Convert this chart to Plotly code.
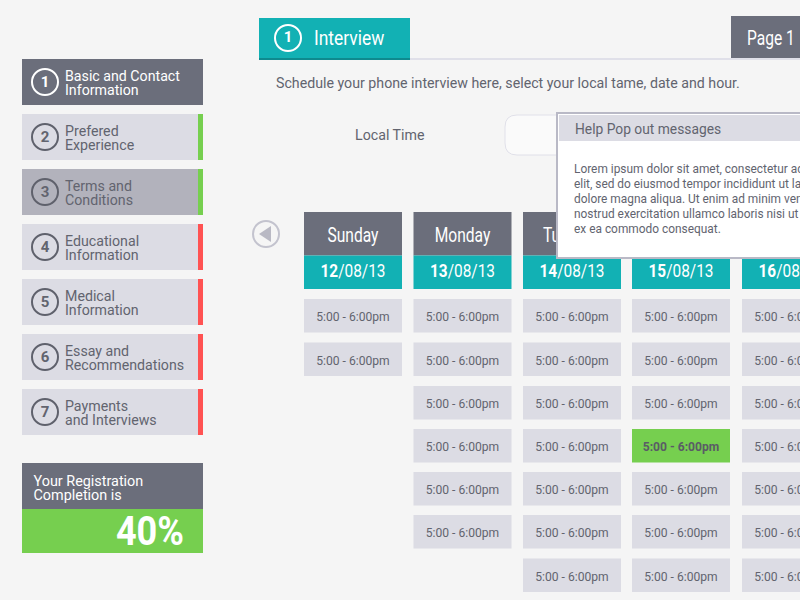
import plotly.graph_objects as go

# Content
step_lines = [
    ['Basic and Contact', 'Information'],
    ['Prefered', 'Experience'],
    ['Terms and', 'Conditions'],
    ['Educational', 'Information'],
    ['Medical', 'Information'],
    ['Essay and', 'Recommendations'],
    ['Payments', 'and Interviews'],
]
step_status = [None, 'done', 'done', 'todo', 'todo', 'todo', 'todo']
active_step = 0
hover_step = 2

days = ['Sunday', 'Monday', 'Tuesday', 'Wednesday', 'Thursday']
dates = ['12', '13', '14', '15', '16']
date_suffix = '/08/13'
slots_per_day = [2, 6, 7, 7, 7]
slot_label = '5:00 - 6:00pm'
selected_slot = (3, 3)  # day index, row index

completion_lines = ['Your Registration', 'Completion is']
completion_value = '40%'
tab_title = 'Interview'
page_label = 'Page 1'
intro_text = 'Schedule your phone interview here, select your local tame, date and hour.'
local_time_label = 'Local Time'
popup_title = 'Help Pop out messages'
popup_lines = [
    'Lorem ipsum dolor sit amet, consectetur adipisicing',
    'elit, sed do eiusmod tempor incididunt ut labore et',
    'dolore magna aliqua. Ut enim ad minim veniam, quis',
    'nostrud exercitation ullamco laboris nisi ut aliquip',
    'ex ea commodo consequat.',
]

# Colours and fonts
BG = '#f5f5f5'
DARK = '#6b6e7b'
LIGHT = '#dcdce4'
MUTED = '#b2b2bc'
TEAL = '#12b1b4'
TEAL_DARK = '#0e8a8e'
GREEN = '#76cf4f'
RED = '#ff5252'
TEXT = '#62646f'
RULE = '#e0e0e9'
FONT = 'Roboto'

fig = go.Figure()


def rect(x0, y0, x1, y1, fill, layer='below'):
    fig.add_shape(type='rect', x0=x0, y0=y0, x1=x1, y1=y1, fillcolor=fill,
                  line_width=0, layer=layer)


def circle(cx, cy, r, stroke, width=2):
    fig.add_shape(type='circle', x0=cx - r, y0=cy - r, x1=cx + r, y1=cy + r,
                  line=dict(color=stroke, width=width), layer='below')


def text(x, y, label, size, color=TEXT, pos='middle right'):
    fig.add_trace(go.Scatter(
        x=[x], y=[y], text=[label], mode='text', textposition=pos,
        textfont=dict(family=FONT, size=size, color=color),
        hoverinfo='skip', showlegend=False,
    ))


# Sidebar steps
for i, lines in enumerate(step_lines):
    top = 59 + i * 55
    fill = DARK if i == active_step else MUTED if i == hover_step else LIGHT
    ink = 'white' if i == active_step else TEXT
    rect(22, top, 203, top + 46, fill)
    if step_status[i]:
        rect(198, top, 203, top + 46, GREEN if step_status[i] == 'done' else RED)
    circle(45, top + 23, 13, ink if i == active_step else '#5f616c')
    text(45, top + 24, f'<b>{i + 1}</b>', 15, ink, 'middle center')
    text(65, top + 18, lines[0], 14.2, ink)
    text(65, top + 32, lines[1], 14.2, ink)

# Completion box
rect(22, 463, 203, 509, DARK)
rect(22, 509, 203, 553, GREEN)
text(33.5, 482.5, completion_lines[0], 14.4, 'white')
text(33.5, 496.5, completion_lines[1], 14.4, 'white')
text(184, 535, f'<b>{completion_value}</b>', 41, 'white', 'middle left')

# Tabs
rect(259, 58, 800, 60, RULE)
rect(259, 18, 410, 60, TEAL)
rect(259, 58, 410, 60, TEAL_DARK)
circle(288, 38, 13, 'white')
text(288, 38.5, '<b>1</b>', 15, 'white', 'middle center')
text(314, 40, tab_title, 20.5, 'white')
rect(731, 16, 800, 58, DARK)
text(747, 40, page_label, 20.5, 'white')

text(276, 84, intro_text, 14.2)
text(355, 136, local_time_label, 14.2)

# Local time input, partly behind the popup
fig.add_shape(type='path', layer='below', fillcolor='#fafafa',
              line=dict(color=RULE, width=1),
              path='M 517 115 L 600 115 L 600 155 L 517 155 '
                   'Q 505 155 505 143 L 505 127 Q 505 115 517 115 Z')

# Previous arrow
circle(266, 234, 13, '#c3c3ce')
fig.add_shape(type='path', path='M 259 234 L 271 226 L 271 242 Z',
              fillcolor='#b9b9c4', line_width=0, layer='below')

# Schedule
col_left = [304, 413.5, 523, 632, 742]
row_top = [299, 342.5, 386, 429, 472, 515, 558.5]
COL_W = 98
for d, day in enumerate(days):
    x0 = col_left[d]
    cx = x0 + COL_W / 2
    rect(x0, 212, x0 + COL_W, 255.5, DARK)
    rect(x0, 255.5, x0 + COL_W, 289, TEAL)
    text(cx, 237, day, 20.5, 'white', 'middle center')
    text(cx, 273, f'<b>{dates[d]}</b>{date_suffix}', 17.5, 'white', 'middle center')
    for r in range(slots_per_day[d]):
        selected = (d, r) == selected_slot
        rect(x0, row_top[r], x0 + COL_W, row_top[r] + 33.5, GREEN if selected else LIGHT)
        label = f'<b>{slot_label}</b>' if selected else slot_label
        text(cx, row_top[r] + 19, label, 12.1, '#5a5c66' if selected else TEXT,
             'middle center')

# Help popup sits above the schedule
rect(556, 112, 800, 259, '#b9b9c6', layer='above')
rect(558, 114, 800, 257, 'white', layer='above')
rect(559, 115, 800, 141, LIGHT, layer='above')
annotations = [dict(x=573, y=129, text=popup_title, font=dict(family=FONT, size=13.8, color=TEXT))]
for i, line in enumerate(popup_lines):
    annotations.append(dict(x=572, y=169 + i * 15, text=line,
                            font=dict(family=FONT, size=11.9, color=TEXT)))
for a in annotations:
    a.update(xref='x', yref='y', xanchor='left', yanchor='middle', showarrow=False)

fig.update_layout(
    width=800, height=600,
    margin=dict(l=0, r=0, t=0, b=0),
    paper_bgcolor=BG, plot_bgcolor=BG,
    showlegend=False,
    annotations=annotations,
    xaxis=dict(range=[0, 800], visible=False, fixedrange=True),
    yaxis=dict(range=[600, 0], visible=False, fixedrange=True),
)

# no condensed Roboto installed, so squeeze the heading labels horizontally
condensed_dates = [d + date_suffix for d in dates]
post_script = """
document.body.style.margin = '0';
var squeeze = function (labels, factor) {
  document.querySelectorAll('.textpoint text').forEach(function (el) {
    if (labels.indexOf(el.textContent) >= 0) {
      el.setAttribute('textLength', el.getComputedTextLength() * factor);
      el.setAttribute('lengthAdjust', 'spacingAndGlyphs');
    }
  });
};
squeeze(%s, 0.76);
squeeze(%s, 0.85);
squeeze(%s, 0.88);
""" % (days + [page_label], [tab_title], [completion_value] + condensed_dates)

fig.write_html('out.html', config={'displayModeBar': False}, post_script=post_script)
